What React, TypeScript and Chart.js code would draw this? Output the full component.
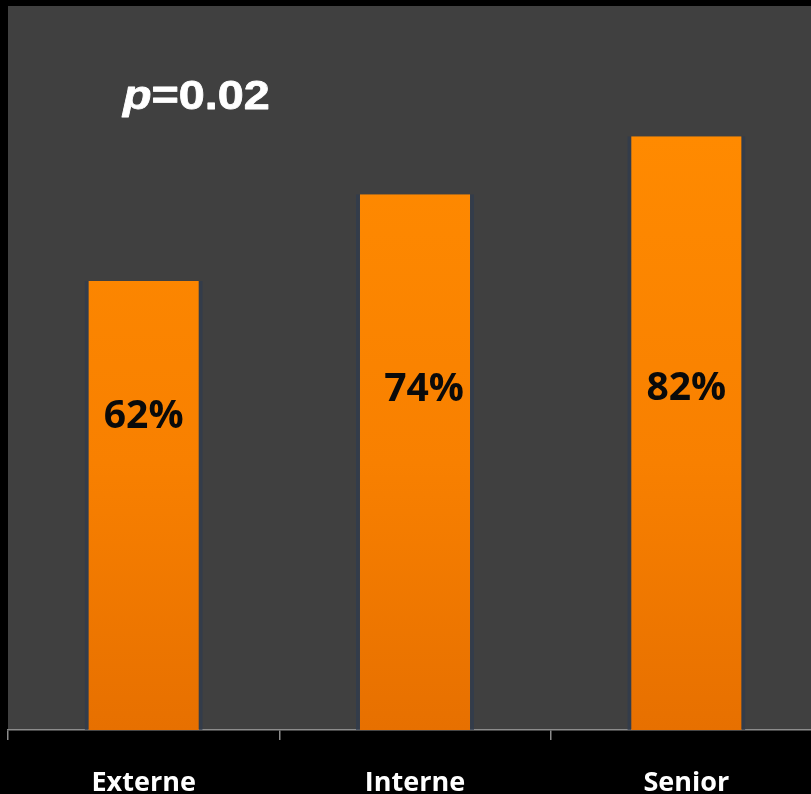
import React, { useEffect, useRef } from "react";
import { Chart, registerables } from "chart.js";

Chart.register(...registerables);

// Share of each group (percent)
const categories = ["Externe", "Interne", "Senior"];
const shares = [62, 74, 82];
const valueLabels = ["62%", "74%", "82%"];
const pValueText = "=0.02";

// Where the percentage text sits inside each bar (baseline, in axis units)
const LABEL_LEVEL = [41.7, 45.4, 45.6];
const LABEL_SHIFT = [0, 9, 0];

const PLOT_BG = "#404040";

const plotBackground = {
  id: "plotBackground",
  beforeDraw(chart: any) {
    const { ctx, chartArea } = chart;
    ctx.save();
    ctx.fillStyle = PLOT_BG;
    ctx.fillRect(chartArea.left, chartArea.top, chartArea.right - chartArea.left, chartArea.bottom - chartArea.top);
    ctx.restore();
  },
};

const barValueLabels = {
  id: "barValueLabels",
  afterDatasetsDraw(chart: any) {
    const { ctx } = chart;
    const meta = chart.getDatasetMeta(0);
    const yScale = chart.scales.y;
    ctx.save();
    ctx.fillStyle = "#0a0a0a";
    ctx.font = 'bold 39px "Open Sans"';
    ctx.textAlign = "center";
    ctx.textBaseline = "alphabetic";
    meta.data.forEach((bar: any, i: number) => {
      ctx.fillText(valueLabels[i], bar.x + LABEL_SHIFT[i], yScale.getPixelForValue(LABEL_LEVEL[i]));
    });
    ctx.restore();
  },
};

const pValueNote = {
  id: "pValueNote",
  afterDraw(chart: any) {
    const { ctx, chartArea } = chart;
    const x = chartArea.left + 115;
    const y = chartArea.top + 103;
    ctx.save();
    ctx.translate(x, y);
    ctx.scale(1.14, 1);
    ctx.fillStyle = "#ffffff";
    ctx.strokeStyle = "#ffffff";
    ctx.lineWidth = 0.8;
    ctx.lineJoin = "round";
    ctx.textBaseline = "alphabetic";
    ctx.textAlign = "left";
    ctx.font = 'italic bold 41px "Liberation Sans", Arial, sans-serif';
    ctx.fillText("p", 0, 0);
    ctx.strokeText("p", 0, 0);
    const pw = ctx.measureText("p").width;
    ctx.font = 'bold 41px "Liberation Sans", Arial, sans-serif';
    ctx.fillText(pValueText, pw, 0);
    ctx.strokeText(pValueText, pw, 0);
    ctx.restore();
  },
};

export default function App() {
  const canvasRef = useRef<HTMLCanvasElement | null>(null);

  useEffect(() => {
    if (!canvasRef.current) return;
    const chart = new Chart(canvasRef.current, {
      type: "bar",
      data: {
        labels: categories,
        datasets: [
          {
            data: shares,
            backgroundColor: (c: any) => {
              const area = c.chart.chartArea;
              if (!area) return "#f98200";
              const g = c.chart.ctx.createLinearGradient(0, area.top + 130, 0, area.bottom);
              g.addColorStop(0, "#ff8a00");
              g.addColorStop(0.55, "#f88000");
              g.addColorStop(1, "#e77000");
              return g;
            },
            borderColor: "rgba(45, 58, 78, 0.7)",
            borderWidth: { left: 4, right: 4, top: 0, bottom: 0 },
            borderSkipped: false,
            barPercentage: 0.435,
            categoryPercentage: 1,
          },
        ],
      },
      options: {
        animation: false,
        responsive: false,
        devicePixelRatio: 1,
        layout: { padding: { left: 8, right: 8, top: 6, bottom: 0 } },
        plugins: {
          legend: { display: false },
          tooltip: { enabled: false },
          title: { display: false },
        },
        scales: {
          x: {
            afterFit(scale: any) {
              scale.height = 64;
            },
            grid: {
              display: true,
              drawOnChartArea: false,
              drawTicks: true,
              tickLength: 10,
              color: "#8c8c8c",
              lineWidth: 1.5,
            },
            border: { display: true, color: "#8c8c8c", width: 1.5 },
            ticks: {
              color: "#ffffff",
              font: { family: "Open Sans", size: 27, weight: "bold" },
              padding: 27,
              maxRotation: 0,
              autoSkip: false,
            },
          },
          y: {
            display: false,
            min: 0,
            max: 100,
          },
        },
      },
      plugins: [plotBackground, barValueLabels, pValueNote],
    });
    return () => chart.destroy();
  }, []);

  return (
    <div
      style={{
        position: "fixed",
        left: 0,
        top: 0,
        width: 811,
        height: 794,
        background: "#000000",
        overflow: "hidden",
      }}
    >
      <canvas ref={canvasRef} width={830} height={794} style={{ display: "block", width: 830, height: 794 }} />
    </div>
  );
}
